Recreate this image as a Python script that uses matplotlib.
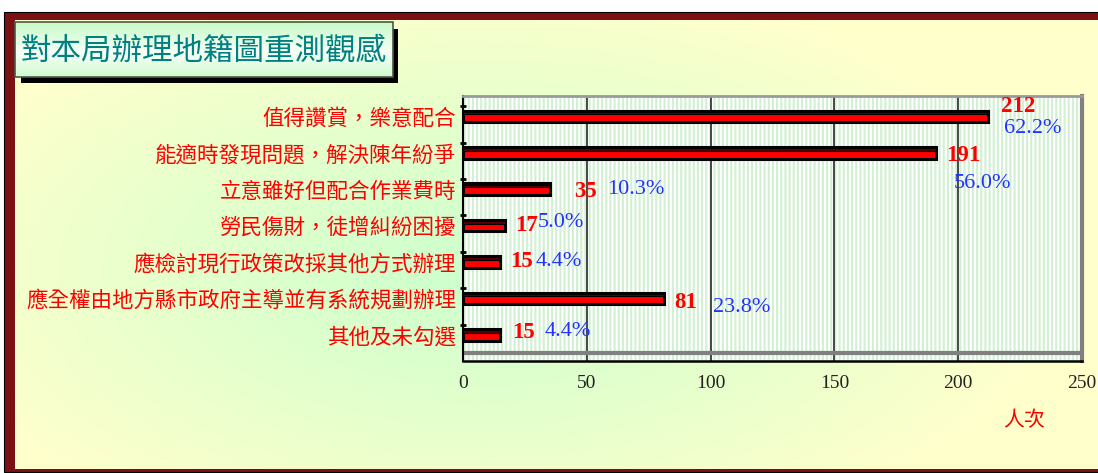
import numpy as np
import matplotlib
matplotlib.use('Agg')
import matplotlib.pyplot as plt
from matplotlib.patches import Rectangle

plt.rcParams['font.family'] = ['Noto Sans CJK TC', 'DejaVu Sans']
plt.rcParams['hatch.linewidth'] = 1.6

title = '對本局辦理地籍圖重測觀感'
categories = ['值得讚賞，樂意配合',
              '能適時發現問題，解決陳年紛爭',
              '立意雖好但配合作業費時',
              '勞民傷財，徒增糾紛困擾',
              '應檢討現行政策改採其他方式辦理',
              '應全權由地方縣市政府主導並有系統規劃辦理',
              '其他及未勾選']
counts = [212, 191, 35, 17, 15, 81, 15]
percents = ['62.2%', '56.0%', '10.3%', '5.0%', '4.4%', '23.8%', '4.4%']
x_ticks = [0, 50, 100, 150, 200, 250]
x_unit = '人次'

# label offsets in pixels (dx from bar end, dy downward), copied from the layout
cnt_off = [(30, -10), (27, 3), (36, 2), (21, 0), (21, 0), (22, 4), (23, -2)]
pct_off = [(45, 12), (47, 31), (86, 0), (56, -3), (59, 0), (78, 9), (68, -3)]

W, H = 1098, 473
fig = plt.figure(figsize=(W / 100, H / 100), dpi=100)
fig.patch.set_facecolor('white')

# background layer in pixel coordinates
bg = fig.add_axes([0, 0, 1, 1])
bg.set_xlim(0, W)
bg.set_ylim(H, 0)
bg.axis('off')

bg.add_patch(Rectangle((4, 12), W, 460, fc='#7B1113', ec='black', lw=0.8))
xs = np.linspace(15, W, 540)
ys = np.linspace(21, 469, 224)
X, Y = np.meshgrid(xs, ys)
d = np.clip(np.sqrt(((X - 480) / 580) ** 2 + ((Y - 270) / 290) ** 2), 0, 1)
d = d ** 1.1
green = np.array([0.80, 1.0, 0.80])
yellow = np.array([1.0, 1.0, 0.80])
img = green * (1 - d[..., None]) + yellow * d[..., None]
bg.imshow(img, extent=(15, W, 469, 21), aspect='auto', interpolation='bilinear', zorder=1)

# title box with shadow
bg.add_patch(Rectangle((21, 29), 377, 54, fc='black', ec='none', zorder=2))
ty = np.linspace(0, 1, 60)
tg = np.abs(ty - 0.55) * 1.8
tg = np.clip(tg, 0, 1)[:, None, None]
timg = np.array([0.97, 1.0, 0.97]) * (1 - tg) + np.array([0.78, 0.98, 0.78]) * tg
timg = np.repeat(timg, 10, axis=1)
bg.imshow(timg, extent=(15, 393, 77, 22), aspect='auto', interpolation='bilinear', zorder=3)
bg.add_patch(Rectangle((15, 22), 378, 55, fc='none', ec='#4A5A4A', lw=1.2, zorder=4))
bg.text(204, 51, title, color='#008080', fontsize=22, ha='center', va='center', zorder=5)

bg.text(1024, 420, x_unit, color='red', fontsize=15, ha='center', va='center')

# chart
ax = fig.add_axes([463 / W, 1 - 361 / H, (1082 - 463) / W, (361 - 96) / H])
ax.set_facecolor('white')
ax.add_patch(Rectangle((0, 0), 1, 1, transform=ax.transAxes, fc='white',
                       ec='#D4F0D4', lw=0, hatch='||||', zorder=0))
ypos = np.arange(len(categories))
ax.set_xlim(0, 250)
ax.set_ylim(6.72, -0.56)

for x in x_ticks[1:-1]:
    ax.axvline(x, color='#2A2A2A', lw=1.2, zorder=1)
ax.axhline(6.5, color='#808080', lw=3, zorder=2)

bh = 0.32
ax.barh(ypos, counts, height=bh, color='#FF0000', edgecolor='black', lw=2.2, zorder=3)
ax.barh(ypos - bh * 0.28, counts, height=bh * 0.22, color='#5A0000',
        edgecolor='black', lw=0.8, zorder=4)

for i, (c, p) in enumerate(zip(counts, percents)):
    ax.annotate(str(c), (c, i), xytext=(cnt_off[i][0] * 0.72, -cnt_off[i][1] * 0.72),
                textcoords='offset points', ha='center', va='center',
                color='red', fontsize=16.5, fontweight='bold', family='Liberation Serif', zorder=6)
    ax.annotate(p, (c, i), xytext=(pct_off[i][0] * 0.72, -pct_off[i][1] * 0.72),
                textcoords='offset points', ha='center', va='center',
                color='#2233FF', fontsize=16, family='Liberation Serif', zorder=6)

ax.set_xticks(x_ticks)
ax.set_xticklabels([str(t) for t in x_ticks], family='Liberation Serif', fontsize=14, color='#222222')
ax.tick_params(axis='x', length=0, pad=10)
ax.set_yticks(ypos)
ax.set_yticklabels(categories, color='red', fontsize=15.5)
ax.tick_params(axis='y', which='major', length=0, pad=5)
ax.set_yticks(ypos - 0.28, minor=True)
ax.tick_params(axis='y', which='minor', length=5, width=2, direction='inout', color='black')

ax.spines['left'].set_color('black')
ax.spines['left'].set_linewidth(1.5)
ax.spines['bottom'].set_color('black')
ax.spines['bottom'].set_linewidth(1.8)
ax.spines['right'].set_color('#808080')
ax.spines['right'].set_linewidth(3)
ax.spines['top'].set_color('#9A9A9A')
ax.spines['top'].set_linewidth(2)
for s in ax.spines.values():
    s.set_zorder(5)

fig.savefig('out.png', dpi=100)
